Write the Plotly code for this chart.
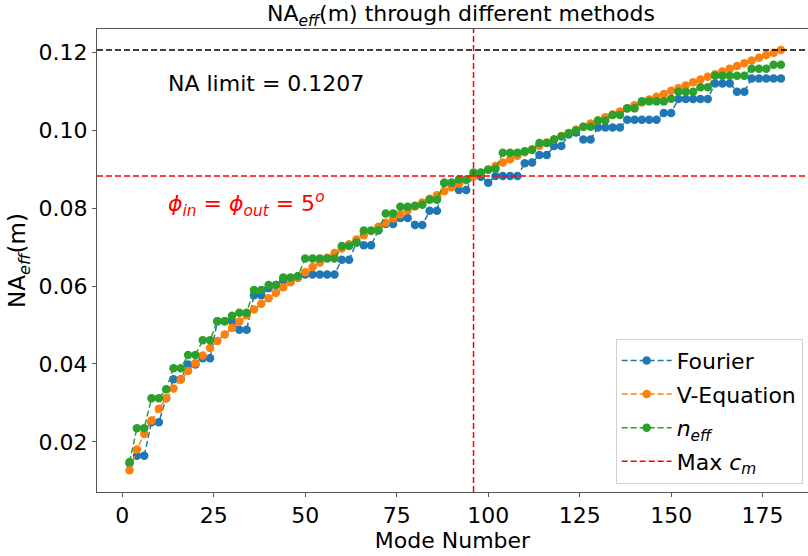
import plotly.graph_objects as go

mode_number = list(range(2, 182, 2))

fourier = [0.0145, 0.0164, 0.0164, 0.0250, 0.0250, 0.0312, 0.0361, 0.0361, 0.0399, 0.0399,
           0.0415, 0.0415, 0.0510, 0.0510, 0.0510, 0.0488, 0.0488, 0.0577, 0.0577, 0.0595,
           0.0603, 0.0615, 0.0615, 0.0622, 0.0630, 0.0630, 0.0630, 0.0630, 0.0630, 0.0668,
           0.0668, 0.0712, 0.0705, 0.0705, 0.0744, 0.0760, 0.0760, 0.0775, 0.0775, 0.0757,
           0.0757, 0.0794, 0.0794, 0.0866, 0.0866, 0.0847, 0.0847, 0.0885, 0.0881, 0.0866,
           0.0883, 0.0883, 0.0883, 0.0883, 0.0916, 0.0918, 0.0937, 0.0937, 0.0960, 0.0960,
           0.0990, 0.0995, 0.0977, 0.0977, 0.1008, 0.1008, 0.1008, 0.1008, 0.1028, 0.1028,
           0.1028, 0.1028, 0.1028, 0.1045, 0.1045, 0.1081, 0.1081, 0.1081, 0.1081, 0.1081,
           0.1121, 0.1121, 0.1121, 0.1100, 0.1100, 0.1134, 0.1134, 0.1134, 0.1134, 0.1134]

v_equation = [0.0127, 0.0180, 0.0220, 0.0255, 0.0285, 0.0312, 0.0337, 0.0360, 0.0382, 0.0402,
              0.0422, 0.0441, 0.0459, 0.0476, 0.0493, 0.0509, 0.0525, 0.0540, 0.0555, 0.0569,
              0.0583, 0.0597, 0.0610, 0.0623, 0.0636, 0.0649, 0.0661, 0.0673, 0.0685, 0.0697,
              0.0708, 0.0720, 0.0731, 0.0742, 0.0753, 0.0763, 0.0774, 0.0784, 0.0795, 0.0805,
              0.0815, 0.0825, 0.0834, 0.0844, 0.0854, 0.0863, 0.0872, 0.0882, 0.0891, 0.0900,
              0.0909, 0.0918, 0.0926, 0.0935, 0.0944, 0.0952, 0.0961, 0.0969, 0.0977, 0.0986,
              0.0994, 0.1002, 0.1010, 0.1018, 0.1026, 0.1034, 0.1041, 0.1049, 0.1057, 0.1065,
              0.1072, 0.1080, 0.1087, 0.1094, 0.1102, 0.1109, 0.1116, 0.1124, 0.1131, 0.1138,
              0.1145, 0.1152, 0.1159, 0.1166, 0.1173, 0.1180, 0.1187, 0.1194, 0.1200, 0.1207]

n_eff = [0.0148, 0.0235, 0.0235, 0.0312, 0.0312, 0.0335, 0.0389, 0.0389, 0.0423, 0.0423,
         0.0461, 0.0461, 0.0510, 0.0510, 0.0524, 0.0532, 0.0532, 0.0590, 0.0590, 0.0603,
         0.0603, 0.0622, 0.0622, 0.0626, 0.0671, 0.0671, 0.0671, 0.0671, 0.0671, 0.0703,
         0.0703, 0.0712, 0.0743, 0.0743, 0.0744, 0.0787, 0.0787, 0.0804, 0.0804, 0.0807,
         0.0809, 0.0822, 0.0822, 0.0866, 0.0866, 0.0874, 0.0874, 0.0892, 0.0892, 0.0899,
         0.0902, 0.0943, 0.0943, 0.0943, 0.0947, 0.0950, 0.0968, 0.0968, 0.0977, 0.0985,
         0.0993, 0.1000, 0.1010, 0.1010, 0.1026, 0.1026, 0.1040, 0.1040, 0.1057, 0.1057,
         0.1075, 0.1075, 0.1075, 0.1075, 0.1082, 0.1100, 0.1100, 0.1100, 0.1111, 0.1111,
         0.1141, 0.1141, 0.1141, 0.1141, 0.1141, 0.1159, 0.1159, 0.1159, 0.1169, 0.1169]

na_limit = 0.1207
max_cm_mode = 96
max_cm_na = 0.0883
phi_deg = 5

x_range = [-6.9, 187.4]
y_range = [0.0071, 0.1261]

font = "DejaVu Sans"
dash = "6px,3px"
fig = go.Figure()

series = [("Fourier", fourier, "#1f77b4"),
          ("V-Equation", v_equation, "#ff7f0e"),
          ("<i>n</i><sub><i>eff</i></sub>", n_eff, "#2ca02c")]
for i, (name, ys, col) in enumerate(series):
    fig.add_trace(go.Scatter(x=mode_number, y=ys, mode="lines+markers", name=name,
                             legendgroup=f"g{i}",
                             line=dict(color=col, width=1.5, dash=dash),
                             marker=dict(color=col, size=8.5)))

fig.add_trace(go.Scatter(x=[max_cm_mode, max_cm_mode], y=y_range, mode="lines",
                         name="Max <i>c</i><sub><i>m</i></sub>", legendgroup="g3",
                         line=dict(color="red", width=1.5, dash=dash)))

fig.add_hline(y=na_limit, line=dict(color="black", width=1.5, dash=dash))
fig.add_hline(y=max_cm_na, line=dict(color="red", width=1.5, dash=dash))

fig.add_annotation(x=12, y=0.1121, xref="x", yref="y", xanchor="left", yanchor="middle",
                   text=f"NA limit = {na_limit}", showarrow=False,
                   font=dict(family=font, size=22, color="black"))
fig.add_annotation(x=12, y=0.0810, xref="x", yref="y", xanchor="left", yanchor="middle",
                   text=f"<i>ϕ</i><sub><i>in</i></sub> = <i>ϕ</i><sub><i>out</i></sub> = {phi_deg}<sup><i>o</i></sup>",
                   showarrow=False, font=dict(family=font, size=22, color="red"))

axis_common = dict(showline=True, linecolor="#555", linewidth=1, mirror=True,
                   ticks="outside", ticklen=4, tickcolor="#555", showgrid=False,
                   zeroline=False, tickfont=dict(family=font, size=22, color="black"))

fig.update_xaxes(range=x_range, tickvals=[0, 25, 50, 75, 100, 125, 150, 175],
                 title=dict(text="Mode Number", font=dict(family=font, size=22, color="black"),
                            standoff=0), **axis_common)
fig.update_yaxes(range=y_range, tickvals=[0.02, 0.04, 0.06, 0.08, 0.10, 0.12], tickformat=".2f",
                 title=dict(text="NA<sub><i>eff</i></sub>(m)",
                            font=dict(family=font, size=23, color="black"), standoff=6),
                 **axis_common)

fig.update_layout(
    width=808, height=556,
    margin=dict(l=97, r=0, t=29, b=64),
    plot_bgcolor="white", paper_bgcolor="white",
    title=dict(text="NA<sub><i>eff</i></sub>(m) through different methods",
               x=0.5705, xanchor="center", y=0.99, yanchor="top", yref="container",
               font=dict(family=font, size=22, color="black")),
    legend=dict(x=0.9925, y=0.018, xanchor="right", yanchor="bottom",
                bgcolor="rgba(255,255,255,0.9)", bordercolor="#d0d0d0", borderwidth=1,
                font=dict(family=font, size=22, color="black"), tracegroupgap=2,
                traceorder="grouped", itemwidth=50),
    showlegend=True,
)

fig.write_html("out.html")
